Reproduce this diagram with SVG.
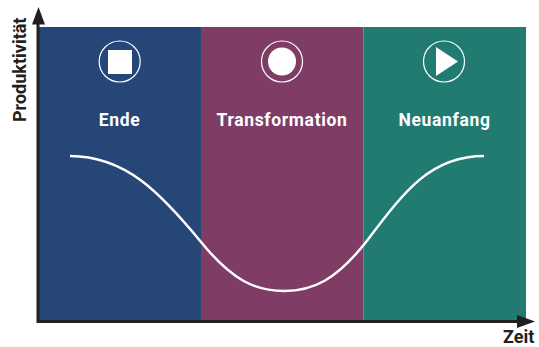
<svg xmlns="http://www.w3.org/2000/svg" width="539" height="347" viewBox="0 0 539 347">
<style>
text{font-family:"Roboto","Liberation Sans",sans-serif;font-weight:700}
.lab{fill:#fff;font-size:17.500px;text-anchor:middle;letter-spacing:.65px}
.ax{fill:#231f20;font-size:18px}
.ring{fill:none;stroke:#fff;stroke-width:1.2}
.glyph{fill:#fff}
.axis{stroke:#231f20;stroke-width:3;fill:none}
.head{fill:#231f20}
</style>
<rect width="539" height="347" fill="#fff"/>
<g id="panel-ende">
<rect x="39" y="27" width="162" height="296" fill="#254677"/>
<circle class="ring" cx="119.700" cy="61.500" r="20.500"/>
<rect class="glyph" x="108" y="50" width="24" height="24"/>
<text class="lab" x="119.500" y="125.500">Ende</text>
</g>
<g id="panel-transformation">
<rect x="201" y="27" width="162.500" height="296" fill="#7f3d66"/>
<circle class="ring" cx="282" cy="61.500" r="20.500"/>
<circle class="glyph" cx="282" cy="61.500" r="14"/>
<text class="lab" x="282" y="125.500">Transformation</text>
</g>
<g id="panel-neuanfang">
<rect x="363.500" y="27" width="162.500" height="296" fill="#217b70"/>
<circle class="ring" cx="444" cy="61.500" r="20.500"/>
<polygon class="glyph" points="436,47 458,61.500 436,76"/>
<text class="lab" x="444.500" y="125.500">Neuanfang</text>
</g>
<g id="connectors">
<path d="M70 156C125 156 160 192 201 242C232 280 255 291 284 291C313 291 336 280 366 242C404 192 430 156 484 156" fill="none" stroke="#fff" stroke-width="2.500"/>
<path class="axis" d="M38 22V321.500H520"/>
<polygon class="head" points="38.500,7 45,24.500 32,24.500"/>
<polygon class="head" points="535,321.500 517,315 517,328"/>
</g>
<g id="axis-labels">
<text class="ax" transform="translate(26 122) rotate(-90)">Produktivität</text>
<text class="ax" x="503" y="343">Zeit</text>
</g>
</svg>
